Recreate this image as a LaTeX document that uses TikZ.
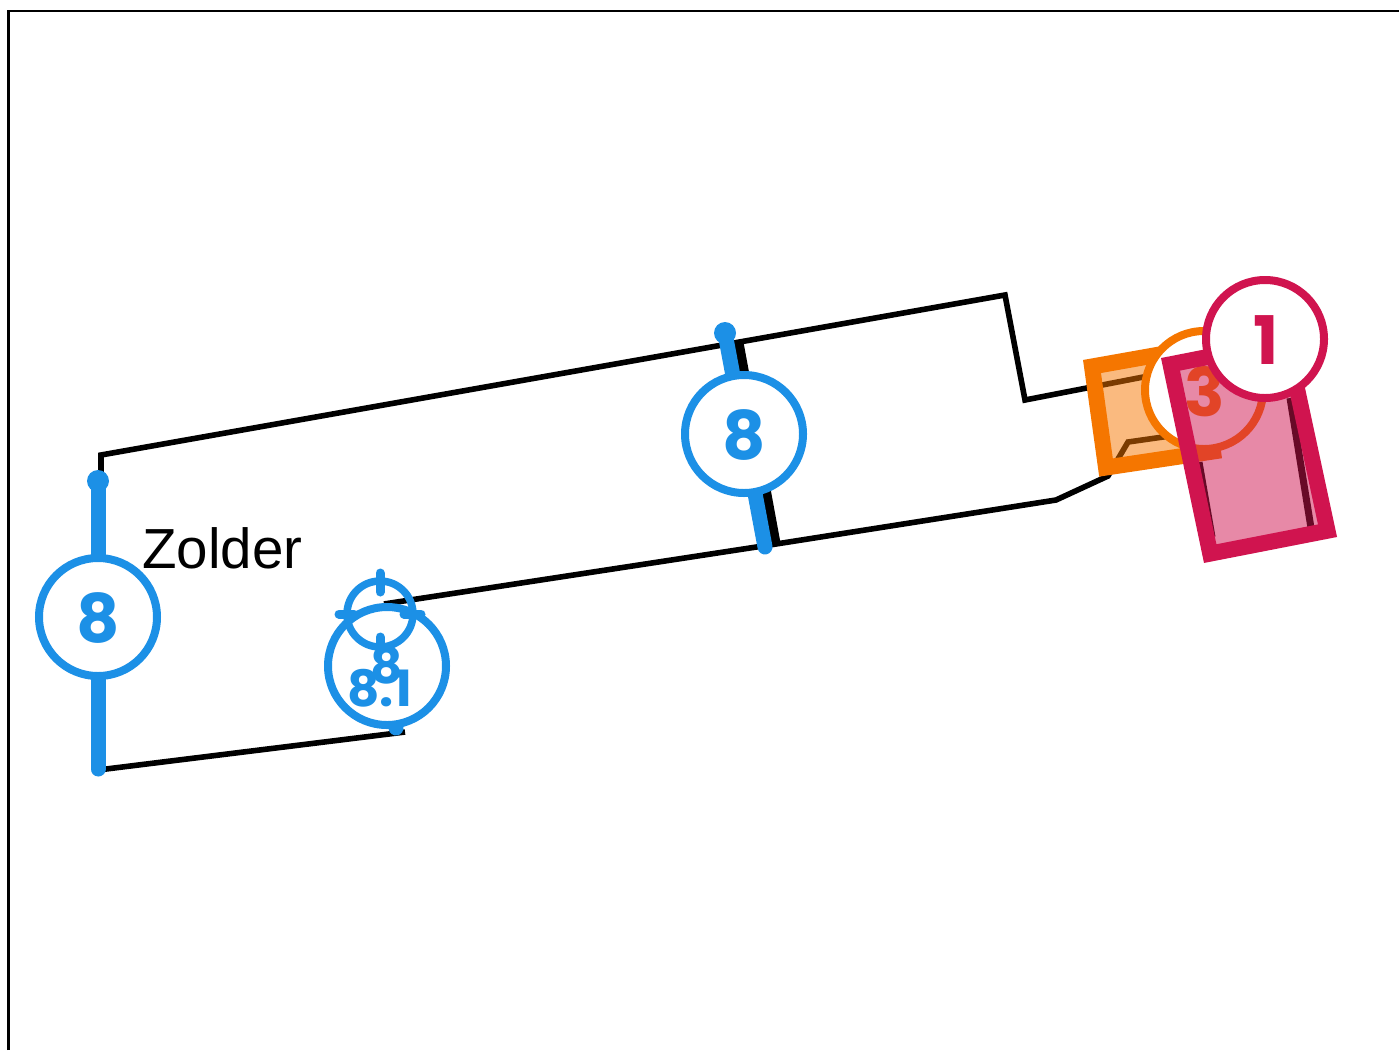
\documentclass[tikz,border=0pt]{standalone}
\usepackage{fontspec}
\setmainfont{Liberation Sans}
\newfontfamily\badgefont[BoldFont=* Bold]{Poppins}
\definecolor{wallblue}{HTML}{1C90E6}
\definecolor{doororange}{HTML}{F57600}
\definecolor{crimsonred}{HTML}{D0144F}
\tikzset{
  wall/.style={draw=black,line width=5.6pt,line join=miter},
  bluewall/.style={draw=wallblue,line width=15pt,line cap=round},
  bluedot/.style={circle,fill=wallblue,minimum size=22pt,inner sep=0pt},
  badge/.style={circle,draw=#1,fill=white,line width=8pt,minimum size=118pt,inner sep=0pt},
  digit/.style={text=#1,inner sep=0pt,font=\badgefont\bfseries\fontsize{67}{67}\selectfont},
  smalldigit/.style={text=#1,inner sep=0pt,font=\badgefont\bfseries\fontsize{50}{50}\selectfont},
  tick/.style={draw=wallblue,line width=9pt,line cap=round},
}
\begin{document}
\begin{tikzpicture}[x=1pt,y=-1pt]
\useasboundingbox (0,0) rectangle (1399,1050);
% frame
\coordinate (f1) at (8.5,1050); \coordinate (f2) at (8.5,11); \coordinate (f3) at (1399,11);
\draw[black,line width=2.5pt] (f1) -- (f2) -- (f3);
% walls
\coordinate (a1) at (101,480); \coordinate (a2) at (101,455); \coordinate (a3) at (1005,295);
\coordinate (a4) at (1025,400); \coordinate (a5) at (1200,366);
\coordinate (b1) at (1170,436); \coordinate (b2) at (1128,442); \coordinate (b3) at (1108,476);
\coordinate (b4) at (1056,500); \coordinate (b5) at (776,544); \coordinate (b6) at (384,604);
\coordinate (c1) at (98,770); \coordinate (c2) at (405,732);
\draw[wall] (a1) -- (a2) -- (a3) -- (a4) -- (a5);
\draw[wall] (b1) -- (b2) -- (b3) -- (b4) -- (b5) -- (b6);
\draw[wall] (c1) -- (c2);
\coordinate (w1) at (738,340); \coordinate (w2) at (776,546);
\draw[black,line width=10pt] (w1) -- (w2);
\coordinate (p1) at (1200,462); \coordinate (p2) at (1213,537);
\coordinate (p3) at (1290,398); \coordinate (p4) at (1311,528);
\draw[black,line width=5pt] (p1) -- (p2);
\draw[black,line width=7pt] (p3) -- (p4);
% blue walls
\coordinate (l1) at (98,481); \coordinate (l2) at (98,769);
\coordinate (m1) at (725,333); \coordinate (m2) at (765,547);
\coordinate (n1) at (387,666); \coordinate (n2) at (396,728);
\draw[bluewall] (l1) -- (l2);
\draw[bluewall] (m1) -- (m2);
\draw[bluewall] (n1) -- (n2);
\node[bluedot] (ldot) at (l1) {};
\node[bluedot] (mdot) at (m1) {};
% blue badges
\node[badge=wallblue] (B1) at (98,617) {};
\node[digit=wallblue] (B1t) at (98,618) {8};
\node[badge=wallblue] (B2) at (744,434) {};
\node[digit=wallblue] (B2t) at (744,435) {8};
\node[badge=wallblue] (B3) at (387,666) {};
\node[circle,draw=wallblue,line width=7.5pt,minimum size=66pt,inner sep=0pt] (S) at (380,614) {};
\coordinate (t1) at (380,573); \coordinate (t2) at (380,592);
\coordinate (t3) at (380,637); \coordinate (t4) at (380,650);
\coordinate (t5) at (339,614); \coordinate (t6) at (354,614);
\coordinate (t7) at (404,614); \coordinate (t8) at (421,614);
\draw[tick] (t1) -- (t2);
\draw[tick] (t3) -- (t4);
\draw[tick] (t5) -- (t6);
\draw[tick] (t7) -- (t8);
\node[smalldigit=wallblue] (S8) at (387,665) {8};
\node[smalldigit=wallblue] (S81) at (380,688) {8.1};
% label
\node[anchor=base west,inner sep=0pt,font=\fontsize{56.5}{56.5}\selectfont] (Z) at (142,568) {Zolder};
% orange element
\coordinate (o1) at (1092,366.5); \coordinate (o2) at (1199,347.5);
\coordinate (o3) at (1213,451.5); \coordinate (o4) at (1106,467.5);
\fill[doororange,fill opacity=.5] (o1) -- (o2) -- (o3) -- (o4) -- cycle;
\draw[doororange,line width=16pt,line join=miter] (o1) -- (o2) -- (o3) -- (o4) -- cycle;
\node[badge=doororange] (B4) at (1204,390) {};
\node[digit=doororange] (B4t) at (1205,392) {3};
% crimson element
\coordinate (r1) at (1170.5,364.3); \coordinate (r2) at (1286.8,341.4);
\coordinate (r3) at (1327.5,530.7); \coordinate (r4) at (1210.2,553.6);
\fill[crimsonred,fill opacity=.5] (r1) -- (r2) -- (r3) -- (r4) -- cycle;
\draw[crimsonred,line width=16pt,line join=miter] (r1) -- (r2) -- (r3) -- (r4) -- cycle;
\node[badge=crimsonred] (B5) at (1265,339) {};
\node[digit=crimsonred] (B5t) at (1266,340) {1};
\end{tikzpicture}
\end{document}
